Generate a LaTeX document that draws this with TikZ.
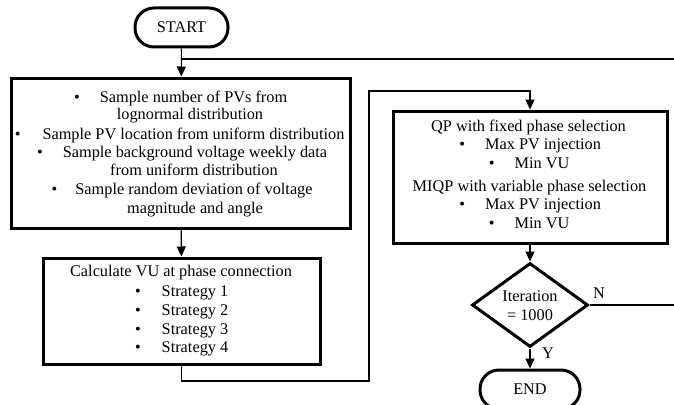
\documentclass[tikz,border=0pt]{standalone}
\usepackage{fontspec}
\setmainfont{Liberation Serif}
\usetikzlibrary{shapes.geometric,arrows.meta}
\begin{document}
\begin{tikzpicture}[x=1pt,y=-1pt,
  box/.style={draw, line width=3pt, inner sep=0pt},
  term/.style={draw, line width=3pt, rounded corners=19pt, inner sep=0pt, minimum height=39pt, font=\fontsize{16.3}{18}\selectfont},
  decis/.style={draw, diamond, line width=3pt, inner sep=0pt, minimum width=116pt, minimum height=84pt},
  txt/.style={inner sep=0pt, text height=11pt, text depth=3.5pt, font=\fontsize{16.3}{18}\selectfont},
  conn/.style={line width=1.1pt},
  arr/.style={line width=1.1pt, -{Triangle[width=9pt,length=10pt]}}
]
\useasboundingbox (0,0) rectangle (674,404);
\newcommand{\bul}[1]{\llap{\textbullet\hspace{#1pt}}}

% nodes
\node[term, minimum width=93pt] (st) at (181.5,27.5) {START};
\node[box, minimum width=339pt, minimum height=150pt] (b1) at (181,153) {};
\node[box, minimum width=277pt, minimum height=106pt] (b2) at (181.5,311) {};
\node[box, minimum width=274pt, minimum height=132pt] (b3) at (530,177) {};
\node[decis] (dia) at (530,305) {};
\node[term, minimum width=100pt] (en) at (530,389.5) {END};

% box 1 text
\node[txt] (t11) at (193.5,99) {\bul{20}Sample number of PVs from};
\node[txt] (t12) at (190,116) {lognormal distribution};
\node[txt] (t13) at (193.5,136) {\bul{22}Sample PV location from uniform distribution};
\node[txt] (t14) at (195,154) {\bul{20}Sample background voltage weekly data};
\node[txt] (t15) at (194,172) {from uniform distribution};
\node[txt] (t16) at (194,191) {\bul{18}Sample random deviation of voltage};
\node[txt] (t17) at (195,210) {magnitude and angle};

% box 2 text
\node[txt] (t21) at (181,273) {Calculate VU at phase connection};
\node[txt] (t22) at (195,293) {\bul{21}Strategy 1};
\node[txt] (t23) at (195,312) {\bul{21}Strategy 2};
\node[txt] (t24) at (195,331) {\bul{21}Strategy 3};
\node[txt] (t25) at (195,349) {\bul{21}Strategy 4};

% box 3 text
\node[txt] (t31) at (528.5,128) {QP with fixed phase selection};
\node[txt] (t32) at (543,146) {\bul{20}Max PV injection};
\node[txt] (t33) at (542,165) {\bul{20}Min VU};
\node[txt] (t34) at (529.5,188) {MIQP with variable phase selection};
\node[txt] (t35) at (543,206) {\bul{20}Max PV injection};
\node[txt] (t36) at (542,225) {\bul{20}Min VU};

% diamond text
\node[txt] (d1) at (530,298) {Iteration};
\node[txt] (d2) at (530,317) {= 1000};
\node[txt] (ln) at (599,295) {N};
\node[txt] (ly) at (548,355) {Y};

% connectors
\coordinate (j) at (181.5,59);
\coordinate (c1) at (369,381);
\coordinate (c2) at (369,91);
\coordinate (far) at (690,305);
\draw[arr] (st) -- (b1);
\draw[conn] (dia.east) -- (far) |- (j);
\draw[arr] (b1) -- (b2);
\draw[arr] (b2.south) |- (c1) -- (c2) -| (b3.north);
\draw[arr] (b3) -- (dia);
\draw[arr] (dia) -- (en);
\end{tikzpicture}
\end{document}
